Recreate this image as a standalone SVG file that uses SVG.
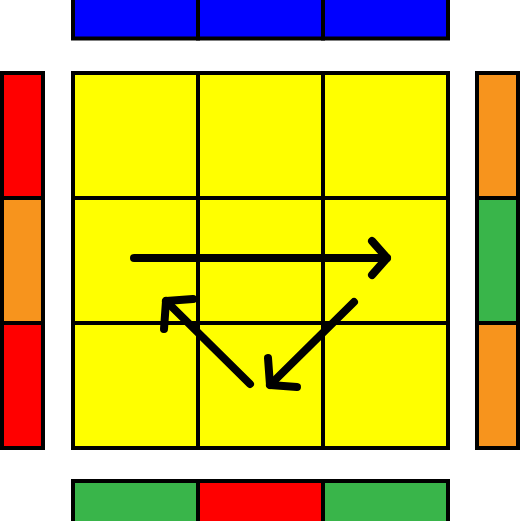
<svg xmlns="http://www.w3.org/2000/svg" width="521" height="521" viewBox="0 0 521 521">
<style>
.s{stroke:#000;stroke-width:4}
.y{fill:#FFFF00}.b{fill:#0000FF}.r{fill:#FF0000}.o{fill:#F7941D}.g{fill:#39B54A}
.a{fill:none;stroke:#000;stroke-width:8;stroke-linecap:round;stroke-linejoin:round}
</style>
<rect width="521" height="521" fill="#fff"/>
<g id="top-face">
<rect class="s y" x="73" y="73" width="125" height="125"/>
<rect class="s y" x="198" y="73" width="125" height="125"/>
<rect class="s y" x="323" y="73" width="125" height="125"/>
<rect class="s y" x="73" y="198" width="125" height="125"/>
<rect class="s y" x="198" y="198" width="125" height="125"/>
<rect class="s y" x="323" y="198" width="125" height="125"/>
<rect class="s y" x="73" y="323" width="125" height="125"/>
<rect class="s y" x="198" y="323" width="125" height="125"/>
<rect class="s y" x="323" y="323" width="125" height="125"/>
</g>
<g id="back-strip">
<rect class="s b" x="73" y="-3" width="125" height="41.5"/>
<rect class="s b" x="198" y="-3" width="125" height="41.5"/>
<rect class="s b" x="323" y="-3" width="125" height="41.5"/>
</g>
<g id="left-strip">
<rect class="s r" x="2" y="73" width="41" height="125"/>
<rect class="s o" x="2" y="198" width="41" height="125"/>
<rect class="s r" x="2" y="323" width="41" height="125"/>
</g>
<g id="right-strip">
<rect class="s o" x="477" y="73" width="41" height="125"/>
<rect class="s g" x="477" y="198" width="41" height="125"/>
<rect class="s o" x="477" y="323" width="41" height="125"/>
</g>
<g id="front-strip">
<rect class="s g" x="73" y="481" width="125" height="42"/>
<rect class="s r" x="198" y="481" width="125" height="42"/>
<rect class="s g" x="323" y="481" width="125" height="42"/>
</g>
<g id="arrows">
<line class="a" x1="134" y1="258" x2="387" y2="258"/>
<polyline class="a" points="372,241 387,258 372,275"/>
<line class="a" x1="354" y1="302" x2="270" y2="385"/>
<polyline class="a" points="268,358 270,385 297,387"/>
<line class="a" x1="250" y1="384" x2="166" y2="301"/>
<polyline class="a" points="164,329 166,301 193,299"/>
</g>
</svg>
